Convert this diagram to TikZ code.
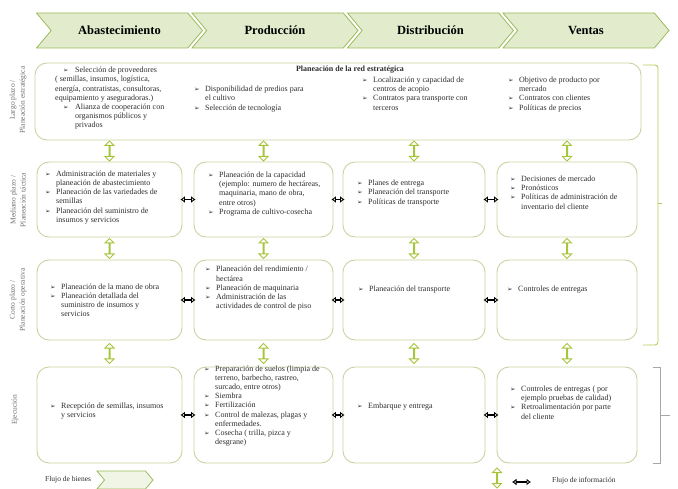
\documentclass[tikz,border=0pt]{standalone}
\usepackage{fontspec}
\setmainfont{Liberation Serif}
\newfontfamily\symfont{DejaVu Sans}
\usetikzlibrary{arrows.meta,shapes.arrows,shapes.symbols,fit,calc}

\definecolor{verdeborde}{RGB}{155,187,89}
\definecolor{verdefondo}{RGB}{226,236,205}
\definecolor{verdecaja}{RGB}{198,212,160}
\definecolor{verdeflujo}{RGB}{168,196,60}
\definecolor{grislabel}{RGB}{110,110,110}
\definecolor{texto}{RGB}{45,45,45}

\newcommand{\bl}{\makebox[6pt][l]{\symfont\fontsize{6.5}{6}\selectfont ➢}}
\newcommand{\lista}[1]{\begin{tabular}{@{}l@{\hspace{5pt}}l@{}}#1\end{tabular}}

\tikzset{
  etapa/.style={signal, signal from=west, signal to=east, signal pointer angle=100,
    draw=verdeborde, fill=verdefondo, line width=0.8pt, minimum width=166pt,
    minimum height=35pt, inner sep=0pt, font=\fontsize{12.5}{13}\selectfont\bfseries},
  caja/.style={draw=verdecaja, rounded corners=12pt, line width=0.9pt, inner sep=0pt},
  txt/.style={anchor=west, inner sep=0pt, text=texto, font=\fontsize{8}{9.2}\selectfont},
  vflow/.style={double arrow, shape border rotate=90, draw=verdeflujo, fill=white,
    line width=1pt, minimum width=7pt, minimum height=20pt,
    double arrow head extend=4pt, double arrow head indent=0pt, inner sep=0pt},
  hflow/.style={{Latex[open,length=4.5pt,width=7pt]}-{Latex[open,length=4.5pt,width=7pt]},
    line width=1.1pt, shorten <=-2pt, shorten >=-2pt},
  plazo/.style={rotate=90, align=center, text=grislabel, font=\fontsize{7.5}{10}\selectfont, inner sep=0pt}
}

\begin{document}
\begin{tikzpicture}[x=1pt, y=-1pt]
    \useasboundingbox (0,0) rectangle (678,489);

    % Etapas de la cadena
    \foreach \i/\nombre in {0/Abastecimiento, 1/Producción, 2/Distribución, 3/Ventas}
        \node[etapa] (h\i) at ({119.5+155.5*\i}, 30.5) {\nombre};

    % Horizontes de planeacion
    \node[plazo] (p1) at (18,100) {Largo plazo /\\Planeación estratégica};
    \node[plazo] (p2) at (18,200) {Mediano plazo /\\Planeación táctica};
    \node[plazo] (p3) at (18,300) {Corto plazo /\\Planeación operativa};
    \node[plazo] (p4) at (15,410) {Ejecución};

    % Largo plazo
    \node[caja, fit={(35,63) (641,140)}] (est) {};
    \node[txt, anchor=center, font=\fontsize{8}{9.2}\selectfont\bfseries] (titulo) at (350,70)
        {Planeación de la red estratégica};
    \node[txt] (t11) at (55,98.5) {\begin{tabular}{@{}l@{}}
        \hspace{8pt}\bl\hspace{6pt}Selección de proveedores\\
        ( semillas, insumos, logística,\\
        energía, contratistas, consultoras,\\
        equipamiento y aseguradoras.)\\
        \hspace{8pt}\bl\hspace{6pt}Alianza de cooperación con\\
        \hspace{20pt}organismos públicos y\\
        \hspace{20pt}privados
    \end{tabular}};
    \node[txt] (t12) at (194,99) {\lista{\bl & Disponibilidad de predios para\\ & el cultivo\\
        \bl & Selección de tecnología}};
    \node[txt] (t13) at (362,94.5) {\lista{\bl & Localización y capacidad de\\ & centros de acopio\\
        \bl & Contratos para transporte con\\ & terceros}};
    \node[txt] (t14) at (508,94.5) {\lista{\bl & Objetivo de producto por\\ & mercado\\
        \bl & Contratos con clientes\\ \bl & Políticas de precios}};

    % Cajas por columna (mediano, corto, ejecucion)
    \foreach \c/\xa/\xb in {1/37/182, 2/194/333, 3/343/485, 4/497/637} {
        \node[caja, fit={(\xa,162) (\xb,237)}] (m\c) {};
        \node[caja, fit={(\xa,260) (\xb,340)}] (c\c) {};
        \node[caja, fit={(\xa,367) (\xb,463)}] (e\c) {};
    }

    % Mediano plazo
    \node[txt] (t21) at (45,197.5) {\lista{\bl & Administración de materiales y\\
        & planeación de abastecimiento\\ \bl & Planeación de las variedades de\\ & semillas\\
        \bl & Planeación del suministro de\\ & insumos y servicios}};
    \node[txt] (t22) at (208,194) {\lista{\bl & Planeación de la capacidad\\
        & (ejemplo: numero de hectáreas,\\ & maquinaria, mano de obra,\\ & entre otros)\\
        \bl & Programa de cultivo-cosecha}};
    \node[txt] (t23) at (357,193) {\lista{\bl & Planes de entrega\\ \bl & Planeación del transporte\\
        \bl & Políticas de transporte}};
    \node[txt] (t24) at (510,193.5) {\lista{\bl & Decisiones de mercado\\ \bl & Pronósticos\\
        \bl & Políticas de administración de\\ & inventario del cliente}};

    % Corto plazo
    \node[txt] (t31) at (50,301) {\lista{\bl & Planeación de la mano de obra\\
        \bl & Planeación detallada del\\ & suministro de insumos y\\ & servicios}};
    \node[txt] (t32) at (205,288.5) {\lista{\bl & Planeación del rendimiento /\\ & hectárea\\
        \bl & Planeación de maquinaria\\ \bl & Administración de las\\
        & actividades de control de piso}};
    \node[txt] (t33) at (358,290) {\lista{\bl & Planeación del transporte}};
    \node[txt] (t34) at (507,290) {\lista{\bl & Controles de entregas}};

    % Ejecucion
    \node[txt] (t41) at (50,411.5) {\lista{\bl & Recepción de semillas, insumos\\ & y servicios}};
    \node[txt] (t42) at (204,406) {\lista{\bl & Preparación de suelos (limpia de\\
        & terreno, barbecho, rastreo,\\ & surcado, entre otros)\\ \bl & Siembra\\
        \bl & Fertilización\\ \bl & Control de malezas, plagas y\\ & enfermedades.\\
        \bl & Cosecha ( trilla, pizca y\\ & desgrane)}};
    \node[txt] (t43) at (357,407) {\lista{\bl & Embarque y entrega}};
    \node[txt] (t44) at (510,403.5) {\lista{\bl & Controles de entregas ( por\\
        & ejemplo pruebas de calidad)\\ \bl & Retroalimentación por parte\\ & del cliente}};

    % Flujo de bienes entre niveles
    \foreach \c in {1,2,3,4} {
        \node[vflow] (va\c) at ($(est.south -| m\c.north)!0.5!(m\c.north)$) {};
        \node[vflow] (vb\c) at ($(m\c.south)!0.5!(c\c.north)$) {};
        \node[vflow] (vc\c) at ($(c\c.south)!0.5!(e\c.north)$) {};
    }

    % Flujo de informacion
    \foreach \a/\b in {1/2, 2/3, 3/4} {
        \draw[hflow] (m\a) -- (m\b);
        \draw[hflow] (c\a) -- (c\b);
        \draw[hflow] (e\a) -- (e\b);
    }

    % Llaves a la derecha
    \draw[verdeflujo!85, line width=0.9pt, rounded corners=3pt] (643,65) -- (658,65) -- (658,345) -- (643,345);
    \draw[verdeflujo!85, line width=0.9pt] (658,203) -- (662,203);
    \draw[gray!70, line width=0.7pt] (653,367) -- (660,367) -- (660,463) -- (653,463);
    \draw[gray!70, line width=0.7pt] (660,415) -- (670,415);

    % Leyenda
    \node[txt, font=\fontsize{7.5}{9}\selectfont] (lbienes) at (45,480) {Flujo de bienes};
    \node[etapa, minimum width=56pt, minimum height=18pt, fill=verdefondo!50] (cbienes) at (125,480) {};
    \node[vflow] (lvert) at (497,478) {};
    \coordinate (li1) at (512,482);
    \coordinate (li2) at (531,482);
    \draw[hflow, shorten <=0pt, shorten >=0pt] (li1) -- (li2);
    \node[txt, font=\fontsize{7.5}{9}\selectfont] (linfo) at (552,481) {Flujo de información};
\end{tikzpicture}
\end{document}
